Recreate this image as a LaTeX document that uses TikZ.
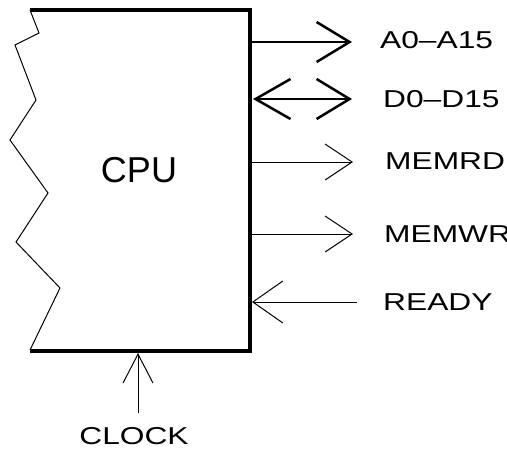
\documentclass[tikz,border=0pt]{standalone}
\usepackage{fontspec}
\setmainfont{Liberation Sans}
\usetikzlibrary{arrows.meta}

% pin names are set wide
\newcommand\pintext[1]{\scalebox{1.3}[1]{#1}}

\tikzset{
  pin/.style={font=\fontsize{24.4}{26}\selectfont, inner sep=0pt},
  bus/.style={line width=2.5pt, -{Straight Barb[length=33pt,width=40pt]}},
  wire/.style={line width=1pt, -{Straight Barb[length=27pt,width=36pt]}},
}

\begin{document}
\begin{tikzpicture}[x=1pt,y=-1pt]
  \useasboundingbox (0,0) rectangle (507,453);

  % CPU block (broken left edge)
  \draw[line width=1pt] (30,10) -- (39,33) -- (15,45) -- (36,100) -- (10,140)
    -- (48,193) -- (16,242) -- (60,288) -- (30,350);
  \draw[line width=4pt] (30,10) -- (250,10) -- (250,351) -- (30,351);
  \node[font=\fontsize{36}{36}\selectfont, inner sep=0pt] (cpu) at (139,170) {CPU};

  % pins on the right side
  \coordinate (pa) at (252,42);
  \coordinate (pd) at (253,99);
  \coordinate (prd) at (252,162);
  \coordinate (pwr) at (252,234);
  \coordinate (prdy) at (252,302);
  \coordinate (pclk) at (138,353);

  \node[pin, anchor=west] (a0) at (380,40) {\pintext{A0–A15}};
  \node[pin, anchor=west] (d0) at (383,99) {\pintext{D0–D15}};
  \node[pin, anchor=west] (memrd) at (385,161) {\pintext{MEMRD}};
  \node[pin, anchor=west] (memwr) at (384,234) {\pintext{MEMWR}};
  \node[pin, anchor=west] (ready) at (383,302) {\pintext{READY}};
  \node[pin] (clock) at (134,436) {\pintext{CLOCK}};

  % buses
  \draw[bus, shorten >=28pt] (pa) -- (a0.west |- pa);
  \draw[bus, {Straight Barb[length=35pt,width=40pt]}-{Straight Barb[length=33pt,width=40pt]},
    shorten >=31pt] (pd) -- (d0.west);

  % control lines
  \draw[wire, shorten >=32pt] (prd) -- (memrd.west |- prd);
  \draw[wire, shorten >=31pt] (pwr) -- (memwr.west);
  \draw[line width=1pt, -{Straight Barb[length=30pt,width=42pt]}, shorten <=26pt]
    (ready.west) -- (prdy);
  \draw[line width=1pt, -{Straight Barb[length=29pt,width=30pt]}, shorten <=14pt]
    (clock.north -| pclk) -- (pclk);
\end{tikzpicture}
\end{document}
